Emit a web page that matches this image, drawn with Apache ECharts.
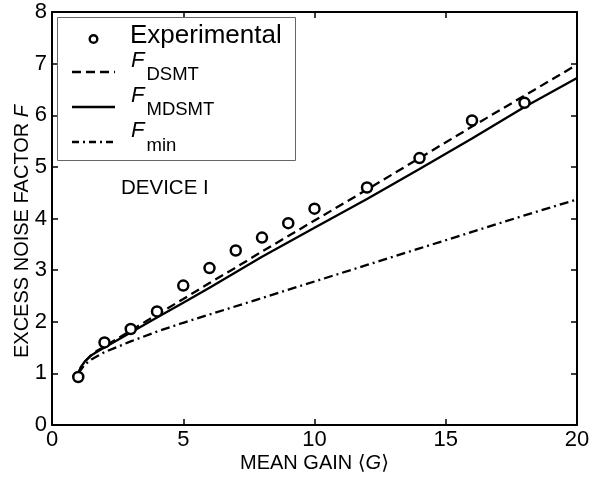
<!DOCTYPE html>
<html>
<head>
<meta charset="utf-8">
<script src="https://cdn.jsdelivr.net/npm/echarts@6/dist/echarts.min.js"></script>
<style>html,body{margin:0;padding:0;background:#fff;}#chart{width:597px;height:477px;}</style>
</head>
<body>
<div id="chart"></div>
<script>
// ---- data ----
const gainExp = [1, 2, 3, 4, 5, 6, 7, 8, 9, 10, 12, 14, 16, 18];
const fExp    = [0.93, 1.60, 1.86, 2.20, 2.70, 3.04, 3.38, 3.63, 3.91, 4.19, 4.60, 5.17, 5.90, 6.24];

const gainCurve = [1, 1.1, 1.25, 1.5, 1.75, 2, 3, 4, 5, 6, 7, 8, 9, 10, 12, 14, 16, 18, 20];
const fDSMT     = [1.00, 1.12, 1.23, 1.36, 1.45, 1.52, 1.83, 2.14, 2.44, 2.75, 3.05, 3.36, 3.66, 3.96, 4.56, 5.17, 5.78, 6.38, 6.98];
const fMDSMT    = [1.00, 1.12, 1.23, 1.35, 1.43, 1.50, 1.79, 2.08, 2.37, 2.66, 2.96, 3.26, 3.54, 3.82, 4.38, 4.96, 5.55, 6.16, 6.72];

const gainMin = [1, 1.25, 1.5, 1.75, 2, 3, 4, 5, 6, 8, 10, 12, 14, 16, 18, 20];
const fMin    = [1.00, 1.17, 1.27, 1.34, 1.41, 1.62, 1.81, 1.98, 2.14, 2.46, 2.78, 3.10, 3.42, 3.74, 4.06, 4.37];

const xTicks = [0, 5, 10, 15, 20];
const yTicks = [0, 1, 2, 3, 4, 5, 6, 7, 8];

const pairs = (xs, ys) => xs.map((x, i) => [x, ys[i]]);
const FONT = "'Liberation Sans', Arial, Helvetica, 'DejaVu Sans', sans-serif";

const chart = echarts.init(document.getElementById('chart'), null, {renderer: 'canvas'});

const axisCommon = {
  axisLine: {show: true, onZero: false, lineStyle: {color: '#000', width: 2}},
  axisTick: {show: true, inside: true, length: 6, lineStyle: {color: '#000', width: 1.5}},
  splitLine: {show: false}
};

const option = {
  animation: false,
  backgroundColor: '#fff',
  grid: {left: 52, right: 20, top: 12, bottom: 52, containLabel: false, outerBoundsMode: 'none'},
  xAxis: [
    Object.assign({
      type: 'value', min: xTicks[0], max: xTicks[xTicks.length - 1], interval: 5, position: 'bottom',
      axisLabel: {color: '#000', fontSize: 22, fontFamily: FONT, margin: 4},
      name: 'MEAN GAIN ⟨{i|G}⟩', nameLocation: 'middle', nameGap: 28, nameMoveOverlap: false,
      nameTextStyle: {color: '#000', fontSize: 20, fontFamily: FONT,
        rich: {i: {fontStyle: 'italic', fontSize: 20, fontFamily: FONT, color: '#000'}}}
    }, axisCommon),
    Object.assign({
      type: 'value', min: xTicks[0], max: xTicks[xTicks.length - 1], interval: 5, position: 'top',
      axisLabel: {show: false}
    }, axisCommon)
  ],
  yAxis: [
    Object.assign({
      type: 'value', min: yTicks[0], max: yTicks[yTicks.length - 1], interval: 1, position: 'left',
      axisLabel: {color: '#000', fontSize: 22, fontFamily: FONT, margin: 5},
      name: 'EXCESS NOISE FACTOR {i|F}', nameLocation: 'middle', nameGap: 20, nameMoveOverlap: false,
      nameTextStyle: {color: '#000', fontSize: 20, fontFamily: FONT, padding: [0, 26, 0, 0],
        rich: {i: {fontStyle: 'italic', fontSize: 20, fontFamily: FONT, color: '#000'}}}
    }, axisCommon),
    Object.assign({
      type: 'value', min: yTicks[0], max: yTicks[yTicks.length - 1], interval: 1, position: 'right',
      axisLabel: {show: false}
    }, axisCommon)
  ],
  series: [
    {
      name: 'Fmin', type: 'line', data: pairs(gainMin, fMin), showSymbol: false, symbol: 'none',
      lineStyle: {color: '#000', width: 2.3, type: [9, 4, 2, 4]}, z: 2
    },
    {
      name: 'FDSMT', type: 'line', data: pairs(gainCurve, fDSMT), showSymbol: false, symbol: 'none',
      lineStyle: {color: '#000', width: 2.3, type: [9, 5]}, z: 3
    },
    {
      name: 'FMDSMT', type: 'line', data: pairs(gainCurve, fMDSMT), showSymbol: false, symbol: 'none',
      lineStyle: {color: '#000', width: 2.3, type: 'solid'}, z: 4
    },
    {
      name: 'Experimental', type: 'scatter', data: pairs(gainExp, fExp),
      symbol: 'circle', symbolSize: 10,
      itemStyle: {color: '#fff', borderColor: '#000', borderWidth: 2.5, opacity: 1}, z: 5
    }
  ],
  graphic: [
    {type: 'rect', shape: {x: 57.5, y: 17.5, width: 238, height: 143},
      style: {fill: '#fff', stroke: '#666', lineWidth: 1}, z: 10},
    {type: 'circle', shape: {cx: 93.5, cy: 39, r: 3.8},
      style: {fill: '#fff', stroke: '#000', lineWidth: 2.4}, z: 11},
    {type: 'text', x: 130, y: 35.5, z: 11,
      style: {text: 'Experimental', fontSize: 26, fontFamily: FONT, fill: '#000', verticalAlign: 'middle'}},
    {type: 'line', shape: {x1: 72, y1: 72, x2: 115, y2: 72}, z: 11,
      style: {stroke: '#000', lineWidth: 2.3, lineDash: [9, 5]}},
    {type: 'text', x: 131, y: 60.5, z: 11,
      style: {text: 'F', fontSize: 22, fontStyle: 'italic', fontFamily: FONT, fill: '#000', verticalAlign: 'middle'}},
    {type: 'text', x: 146.5, y: 74.5, z: 11,
      style: {text: 'DSMT', fontSize: 18.5, fontFamily: FONT, fill: '#000', verticalAlign: 'middle'}},
    {type: 'line', shape: {x1: 72, y1: 107, x2: 115, y2: 107}, z: 11,
      style: {stroke: '#000', lineWidth: 2.3}},
    {type: 'text', x: 131, y: 95.5, z: 11,
      style: {text: 'F', fontSize: 22, fontStyle: 'italic', fontFamily: FONT, fill: '#000', verticalAlign: 'middle'}},
    {type: 'text', x: 146.5, y: 110, z: 11,
      style: {text: 'MDSMT', fontSize: 18.5, fontFamily: FONT, fill: '#000', verticalAlign: 'middle'}},
    {type: 'line', shape: {x1: 72, y1: 142, x2: 115, y2: 142}, z: 11,
      style: {stroke: '#000', lineWidth: 2.3, lineDash: [7, 4, 2, 4]}},
    {type: 'text', x: 131, y: 130.5, z: 11,
      style: {text: 'F', fontSize: 22, fontStyle: 'italic', fontFamily: FONT, fill: '#000', verticalAlign: 'middle'}},
    {type: 'text', x: 146.5, y: 146, z: 11,
      style: {text: 'min', fontSize: 18.5, fontFamily: FONT, fill: '#000', verticalAlign: 'middle'}},
    {type: 'text', x: 121, y: 188.5, z: 11,
      style: {text: 'DEVICE I', fontSize: 20.5, fontFamily: FONT, fill: '#000', verticalAlign: 'middle'}}
  ]
};
chart.setOption(option);
</script>
</body>
</html>
